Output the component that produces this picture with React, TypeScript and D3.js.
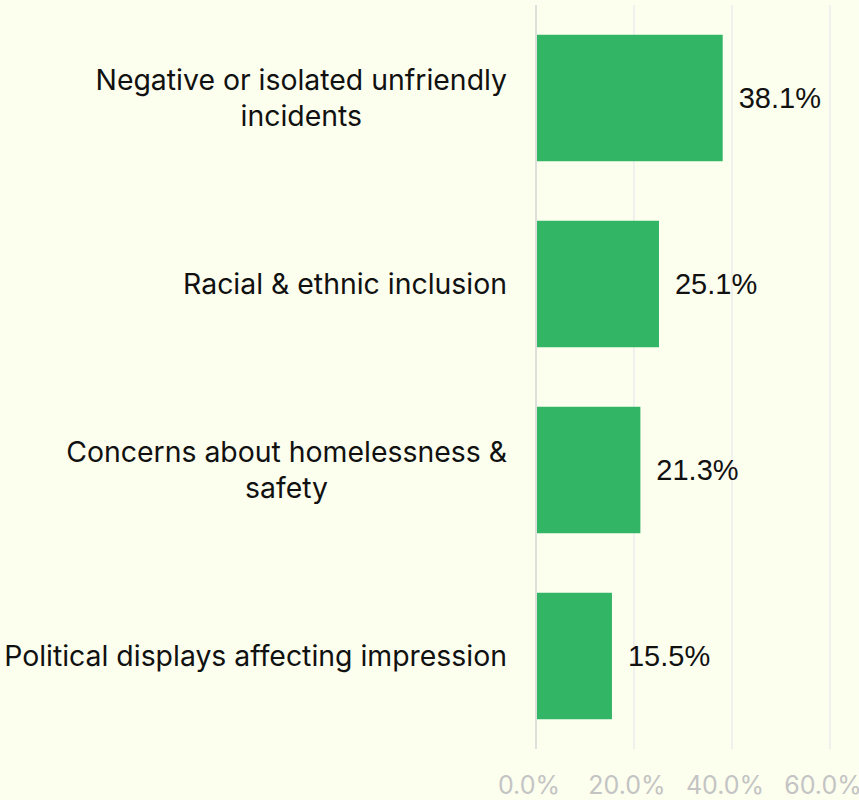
import React, { useEffect, useRef } from "react";
import * as d3 from "d3";

const categories = [
  "Negative or isolated unfriendly\nincidents",
  "Racial & ethnic inclusion",
  "Concerns about homelessness &\nsafety",
  "Political displays affecting impression",
];
const values = [38.1, 25.1, 21.3, 15.5];
const xTicks = [0, 20, 40, 60];

const W = 859;
const H = 800;

export default function App() {
  const ref = useRef<SVGSVGElement>(null);

  useEffect(() => {
    document.body.style.margin = "0";
    const svg = d3.select(ref.current);
    svg.selectAll("*").remove();

    const x = d3.scaleLinear().domain([0, 60]).range([536, 830]);
    const y = d3
      .scaleBand<string>()
      .domain(categories)
      .range([5, 749])
      .paddingInner(0.32)
      .paddingOuter(0.16);

    svg.append("rect").attr("width", W).attr("height", H).attr("fill", "#FCFFEE");

    // gridlines
    svg
      .selectAll("line.grid")
      .data(xTicks)
      .join("line")
      .attr("class", "grid")
      .attr("x1", (d) => x(d))
      .attr("x2", (d) => x(d))
      .attr("y1", 5)
      .attr("y2", 749)
      .attr("stroke", (d) => (d === 0 ? "#d4d4d4" : "#ededed"))
      .attr("stroke-width", 1.5);

    // tick labels
    svg
      .selectAll("text.tick")
      .data(xTicks)
      .join("text")
      .attr("class", "tick")
      .attr("x", (d) => x(d) - 7)
      .attr("y", 794)
      .attr("text-anchor", "middle")
      .attr("font-family", "Inter, Roboto, sans-serif")
      .attr("font-size", 25)
      .attr("fill", "#c4c4c4")
      .text((d) => d3.format(".1f")(d) + "%");

    // bars
    svg
      .selectAll("rect.bar")
      .data(values)
      .join("rect")
      .attr("class", "bar")
      .attr("x", x(0) + 1)
      .attr("y", (_d, i) => y(categories[i])!)
      .attr("width", (d) => x(d) - x(0) - 1)
      .attr("height", y.bandwidth())
      .attr("fill", "#33B566");

    // value labels
    svg
      .selectAll("text.val")
      .data(values)
      .join("text")
      .attr("class", "val")
      .attr("x", (d) => x(d) + 16)
      .attr("y", (_d, i) => y(categories[i])! + y.bandwidth() / 2)
      .attr("dy", "0.36em")
      .attr("font-family", "'Liberation Sans', Arial, sans-serif")
      .attr("font-size", 29)
      .attr("fill", "#111")
      .text((d) => d.toFixed(1) + "%");

    // category labels
    const lineH = 36;
    const rightEdge = 507;
    categories.forEach((c) => {
      const lines = c.split("\n");
      const cy = y(c)! + y.bandwidth() / 2;
      const g = svg.append("g");
      const texts = lines.map((ln, j) =>
        g
          .append("text")
          .attr("y", cy + (j - (lines.length - 1) / 2) * lineH)
          .attr("dy", "0.36em")
          .attr("text-anchor", "middle")
          .attr("font-family", "Inter, Roboto, sans-serif")
          .attr("font-size", 28.4)
          .attr("fill", "#111")
          .text(ln)
      );
      const widths = texts.map((t) => (t.node() as SVGTextElement).getComputedTextLength());
      const maxW = Math.max(...widths);
      texts.forEach((t) => t.attr("x", rightEdge - maxW / 2));
    });
  }, []);

  return <svg ref={ref} width={W} height={H} style={{ display: "block" }} />;
}
